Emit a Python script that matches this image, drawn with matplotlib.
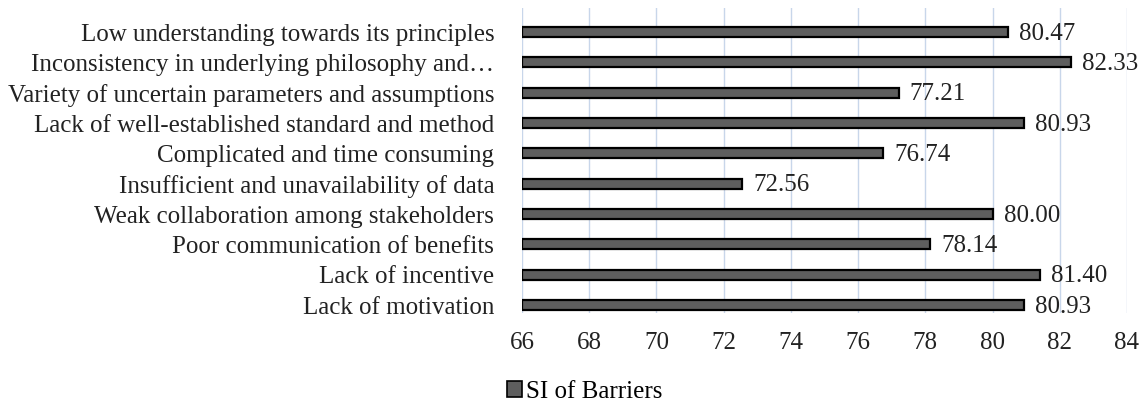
import matplotlib
matplotlib.use("Agg")
import matplotlib.pyplot as plt
from matplotlib.patches import Patch

categories = [
    "Low understanding towards its principles",
    "Inconsistency in underlying philosophy and…",
    "Variety of uncertain parameters and assumptions",
    "Lack of well-established standard and method",
    "Complicated and time consuming",
    "Insufficient and unavailability of data",
    "Weak collaboration among stakeholders",
    "Poor communication of benefits",
    "Lack of incentive",
    "Lack of motivation",
]
values = [80.47, 82.33, 77.21, 80.93, 76.74, 72.56, 80.00, 78.14, 81.40, 80.93]
value_labels = ["80.47", "82.33", "77.21", "80.93", "76.74", "72.56", "80.00", "78.14", "81.40", "80.93"]
xticks = [66, 68, 70, 72, 74, 76, 78, 80, 82, 84]
series_name = "SI of Barriers"

plt.rcParams['font.family'] = ['Liberation Serif', 'DejaVu Serif']
FS = 18

fig = plt.figure(figsize=(11.48, 4.03), dpi=100)
ax = fig.add_axes([0.4547, 0.2233, 0.5270, 0.7568])

ypos = list(range(len(categories)))
ax.barh(ypos, [v - 66 for v in values], left=66, height=0.33,
        color='#5e5e5e', edgecolor='black', linewidth=1.6, zorder=3)
for y, v, lab in zip(ypos, values, value_labels):
    ax.text(v + 0.33, y + 0.05, lab, va='center', ha='left', fontsize=FS, color='#222222')

ax.set_xlim(66, 84)
ax.set_ylim(9.264, -0.791)
ax.set_xticks(xticks)
ax.set_xticklabels([str(t) for t in xticks], fontsize=FS, color='#222222')
ax.set_yticks(ypos)
ax.set_yticklabels(categories, fontsize=FS, color='#222222')
ax.tick_params(axis='x', length=0, pad=14)
ax.tick_params(axis='y', length=0, pad=20)
ax.grid(axis='x', color='#c8d6ea', linewidth=1.0, zorder=0)
for s in ax.spines.values():
    s.set_visible(False)

handle = Patch(facecolor='#5e5e5e', edgecolor='black', linewidth=1.2)
fig.legend([handle], [series_name], loc='center', bbox_to_anchor=(0.5096, 0.0273),
           frameon=False, fontsize=FS, handlelength=0.6, handleheight=0.6,
           handletextpad=0.15, borderpad=0.0)

fig.savefig("out.png", dpi=100)
